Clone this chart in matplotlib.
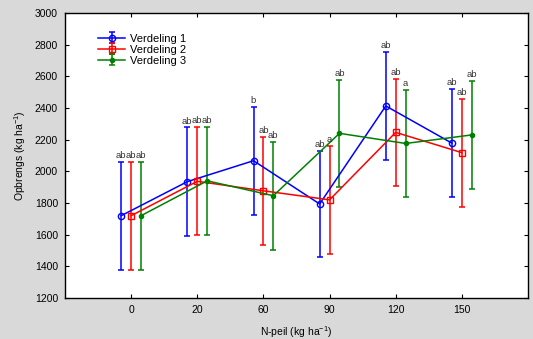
import numpy as np
import matplotlib
matplotlib.use('Agg')
import matplotlib.pyplot as plt

plt.rcParams['font.family'] = ['Liberation Sans', 'DejaVu Sans']
plt.rcParams['mathtext.default'] = 'regular'

n_levels = ['0', '20', '60', '90', '120', '150']

# means and half-widths of the error bars
v1 = [1720, 1935, 2067, 1794, 2413, 2178]
v1_err = [340, 342, 340, 337, 340, 340]
v2 = [1720, 1937, 1877, 1820, 2246, 2118]
v2_err = [340, 342, 340, 340, 340, 341]
v3 = [1720, 1940, 1846, 2240, 2176, 2230]
v3_err = [340, 342, 340, 340, 340, 341]

lab1 = ['ab', 'ab', 'b', 'ab', 'ab', 'ab']
lab2 = ['ab', 'ab', 'ab', 'a', 'ab', 'ab']
lab3 = ['ab', 'ab', 'ab', 'ab', 'a', 'ab']

series = [
    ('Verdeling 1', v1, v1_err, lab1, '#0000ff', 'o', 'none', -0.15),
    ('Verdeling 2', v2, v2_err, lab2, '#ff0000', 's', 'none', 0.0),
    ('Verdeling 3', v3, v3_err, lab3, '#008000', 'o', '#008000', 0.15),
]

fig = plt.figure(figsize=(5.33, 3.39), dpi=100)
fig.patch.set_facecolor('#d9d9d9')
ax = fig.add_axes([65 / 533, 41 / 339, 463 / 533, 285 / 339])
ax.set_facecolor('white')

x = np.arange(len(n_levels))
for name, vals, err, labs, col, mk, mfc, off in series:
    xs = x + off
    ax.errorbar(xs, vals, yerr=err, color=col, marker=mk, mfc=mfc, mec=col,
                ms=4.5 if mfc == 'none' else 3, lw=1.1,
                elinewidth=1.1, capsize=2.5, capthick=1.1, label=name)
    for xi, vi, ei, t in zip(xs, vals, err, labs):
        ax.text(xi, vi + ei + 12, t, ha='center', va='bottom', fontsize=6.8,
                color='#333333')

ax.set_xlim(-1, 6)
ax.set_ylim(1200, 3000)
ax.set_xticks(x)
ax.set_xticklabels(n_levels)
ax.set_yticks(np.arange(1200, 3001, 200))
ax.tick_params(direction='in', top=True, right=True, labelsize=7.5, length=3,
               width=0.8, pad=5)
for s in ax.spines.values():
    s.set_linewidth(1.0)

ax.set_xlabel('N-peil (kg ha$^{-1}$)', fontsize=7.5, labelpad=7)
ax.set_ylabel('Opbrengs (kg ha$^{-1}$)', fontsize=7.5, labelpad=5)

ax.legend(loc='upper left', bbox_to_anchor=(0.055, 0.955), frameon=False,
          fontsize=8, handlelength=2.4, labelspacing=0.1, borderpad=0.2,
          handletextpad=0.5)

fig.savefig('out.png', dpi=100, facecolor=fig.get_facecolor())
